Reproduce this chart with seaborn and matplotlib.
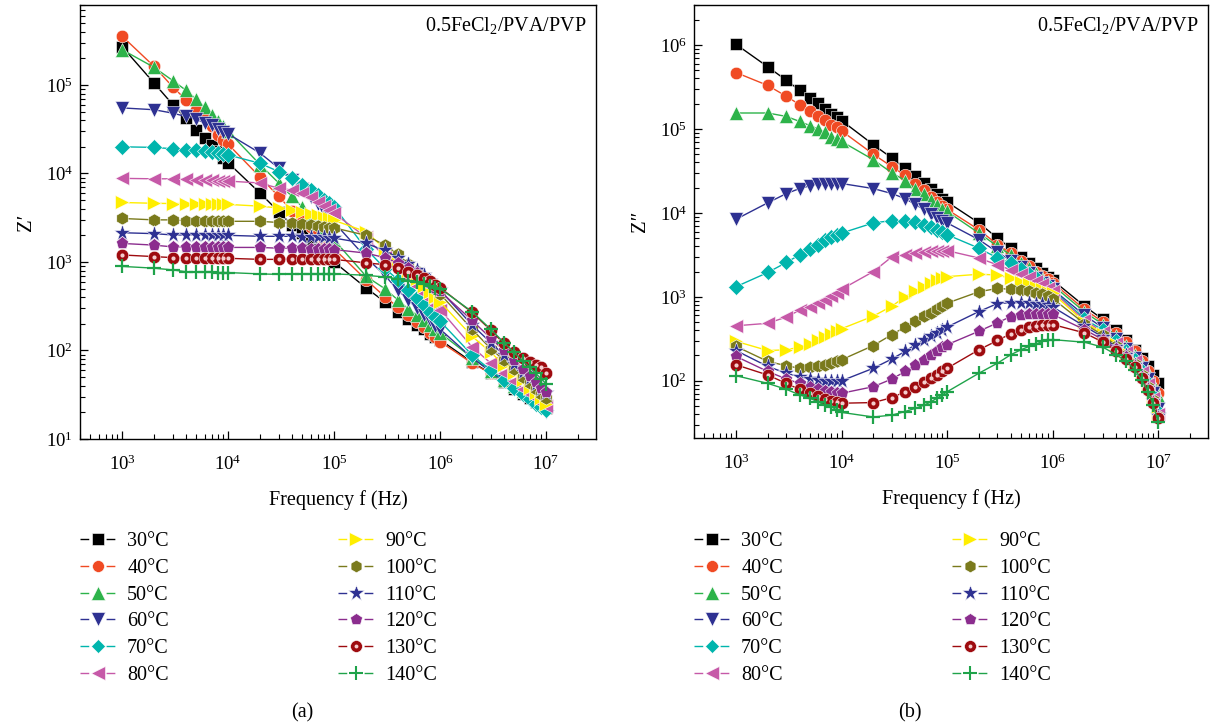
import matplotlib
matplotlib.use("Agg")
import matplotlib.pyplot as plt
from matplotlib.lines import Line2D
from matplotlib.legend_handler import HandlerTuple
import seaborn as sns
import pandas as pd

# ---------------------------------------------------------------- data
freq_hz = [1e3, 2e3, 3e3, 4e3, 5e3, 6e3, 7e3, 8e3, 9e3,
           1e4, 2e4, 3e4, 4e4, 5e4, 6e4, 7e4, 8e4, 9e4,
           1e5, 2e5, 3e5, 4e5, 5e5, 6e5, 7e5, 8e5, 9e5,
           1e6, 2e6, 3e6, 4e6, 5e6, 6e6, 7e6, 8e6, 9e6,
           1e7]

temperatures = ["30°C", "40°C", "50°C", "60°C", "70°C", "80°C",
                "90°C", "100°C", "110°C", "120°C", "130°C", "140°C"]

# real part Z' (ohm)
zr_30 = [2.7e5, 1.05e5, 6.0e4, 4.2e4, 3.1e4, 2.5e4, 2.1e4, 1.78e4, 1.51e4,
         1.32e4, 6.0e3, 3.7e3, 2.6e3, 2.1e3, 1.66e3, 1.41e3, 1.23e3, 1.10e3,
         1.0e3, 510, 355, 275, 229, 195, 174, 155, 141,
         132, 74, 55, 44, 37, 32, 29, 26, 24,
         22.4]
zr_40 = [3.55e5, 1.62e5, 9.5e4, 6.8e4, 5.2e4, 4.3e4, 3.4e4, 2.75e4, 2.4e4,
         2.14e4, 9.1e3, 5.5e3, 3.8e3, 3.1e3, 2.5e3, 2.1e3, 1.82e3, 1.58e3,
         1.41e3, 630, 407, 309, 251, 209, 182, 158, 141,
         126, 72, 55, 45, 38, 33, 29.5, 27, 25,
         23.4]
zr_50 = [2.5e5, 1.58e5, 1.12e5, 8.7e4, 6.9e4, 5.6e4, 4.6e4, 3.9e4, 3.4e4,
         3.0e4, 1.26e4, 7.8e3, 5.5e3, 4.2e3, 3.3e3, 2.75e3, 2.35e3, 2.05e3,
         1.78e3, 690, 500, 372, 295, 251, 219, 195, 174,
         158, 83, 59, 47, 40, 35, 32, 29.5, 27.5,
         26]
zr_60 = [5.5e4, 5.25e4, 4.8e4, 4.4e4, 4.1e4, 3.7e4, 3.5e4, 3.2e4, 2.95e4,
         2.8e4, 1.7e4, 1.15e4, 8.5e3, 6.6e3, 5.4e3, 4.5e3, 3.8e3, 3.2e3,
         2.8e3, 1.12e3, 710, 480, 372, 302, 251, 219, 191,
         174, 83, 57.5, 45, 37, 31.6, 27.5, 24.5, 22.4,
         20.4]
zr_70 = [2.0e4, 1.97e4, 1.9e4, 1.86e4, 1.84e4, 1.78e4, 1.74e4, 1.7e4, 1.66e4,
         1.62e4, 1.3e4, 1.05e4, 8.9e3, 7.4e3, 6.5e3, 5.75e3, 5.0e3, 4.6e3,
         4.2e3, 1.41e3, 850, 630, 480, 389, 324, 275, 240,
         214, 89, 60, 46, 38, 32, 28, 25, 23,
         21.4]
zr_80 = [8.8e3, 8.7e3, 8.7e3, 8.6e3, 8.5e3, 8.5e3, 8.4e3, 8.3e3, 8.3e3,
         8.2e3, 7.8e3, 6.8e3, 6.5e3, 6.0e3, 5.4e3, 4.7e3, 4.3e3, 3.9e3,
         3.55e3, 1.9e3, 1.15e3, 850, 660, 540, 450, 380, 330,
         290, 110, 72, 55, 45, 37, 32, 29, 25.7,
         23.4]
zr_90 = [4.7e3, 4.6e3, 4.57e3, 4.57e3, 4.5e3, 4.5e3, 4.47e3, 4.47e3, 4.47e3,
         4.47e3, 4.27e3, 4.07e3, 3.9e3, 3.7e3, 3.5e3, 3.4e3, 3.24e3, 3.1e3,
         2.95e3, 2.2e3, 1.41e3, 1.02e3, 790, 650, 540, 460, 400,
         355, 145, 95.5, 69, 55, 46, 38, 33, 29,
         25]
zr_100 = [3.1e3, 2.99e3, 2.99e3, 2.92e3, 2.88e3, 2.88e3, 2.88e3, 2.88e3, 2.88e3,
          2.88e3, 2.88e3, 2.79e3, 2.75e3, 2.69e3, 2.63e3, 2.57e3, 2.51e3, 2.45e3,
          2.43e3, 2.0e3, 1.55e3, 1.23e3, 955, 794, 676, 575, 500,
          437, 174, 105, 78, 62, 50, 43, 37, 32,
          29]
zr_110 = [2.14e3, 2.09e3, 2.02e3, 2.02e3, 2.02e3, 2.0e3, 2.0e3, 2.0e3, 2.0e3,
          2.0e3, 1.95e3, 1.95e3, 1.95e3, 1.93e3, 1.93e3, 1.91e3, 1.91e3, 1.88e3,
          1.86e3, 1.62e3, 1.35e3, 1.12e3, 955, 813, 708, 617, 550,
          479, 195, 123, 89, 71, 57.5, 49, 41.7, 37,
          33]
zr_120 = [1.62e3, 1.55e3, 1.48e3, 1.48e3, 1.48e3, 1.48e3, 1.46e3, 1.46e3, 1.46e3,
          1.46e3, 1.46e3, 1.43e3, 1.43e3, 1.43e3, 1.41e3, 1.41e3, 1.41e3, 1.40e3,
          1.38e3, 1.26e3, 1.12e3, 977, 851, 741, 646, 575, 513,
          468, 219, 138, 100, 78, 62, 51, 44, 38,
          34]
zr_130 = [1.2e3, 1.15e3, 1.12e3, 1.10e3, 1.10e3, 1.10e3, 1.10e3, 1.10e3, 1.10e3,
          1.10e3, 1.07e3, 1.07e3, 1.08e3, 1.08e3, 1.08e3, 1.08e3, 1.07e3, 1.07e3,
          1.07e3, 977, 933, 851, 776, 708, 661, 603, 550,
          513, 269, 170, 120, 95, 83, 74, 69, 65,
          55]
zr_140 = [891, 851, 813, 776, 776, 767, 767, 759, 759,
          759, 733, 724, 733, 733, 733, 733, 733, 733,
          733, 708, 676, 646, 617, 589, 562, 537, 513,
          501, 275, 174, 123, 95, 76, 65, 55, 48,
          42]

# imaginary part Z'' (ohm)
zi_30 = [1.02e6, 5.5e5, 3.8e5, 2.9e5, 2.35e5, 2.05e5, 1.74e5, 1.51e5, 1.38e5,
         1.26e5, 6.5e4, 4.5e4, 3.4e4, 2.75e4, 2.3e4, 1.95e4, 1.7e4, 1.48e4,
         1.35e4, 7.6e3, 5.0e3, 3.8e3, 3.0e3, 2.5e3, 2.2e3, 1.9e3, 1.74e3,
         1.58e3, 776, 537, 398, 302, 234, 186, 148, 117,
         93]
zi_40 = [4.7e5, 3.3e5, 2.45e5, 1.95e5, 1.66e5, 1.43e5, 1.29e5, 1.12e5, 1.05e5,
         9.5e4, 5.0e4, 3.55e4, 2.8e4, 2.24e4, 1.86e4, 1.55e4, 1.35e4, 1.2e4,
         1.1e4, 6.3e3, 4.2e3, 3.3e3, 2.7e3, 2.3e3, 2.0e3, 1.78e3, 1.62e3,
         1.48e3, 708, 501, 372, 288, 224, 174, 132, 100,
         72]
zi_50 = [1.55e5, 1.55e5, 1.41e5, 1.23e5, 1.1e5, 1.0e5, 9.1e4, 8.1e4, 7.6e4,
         7.1e4, 4.3e4, 3.0e4, 2.43e4, 1.95e4, 1.66e4, 1.43e4, 1.24e4, 1.1e4,
         1.04e4, 5.75e3, 4.0e3, 3.16e3, 2.5e3, 2.2e3, 1.9e3, 1.66e3, 1.51e3,
         1.38e3, 661, 468, 339, 257, 204, 162, 123, 91,
         65]
zi_60 = [8.4e3, 1.32e4, 1.7e4, 1.95e4, 2.1e4, 2.2e4, 2.24e4, 2.24e4, 2.24e4,
         2.24e4, 1.95e4, 1.7e4, 1.48e4, 1.26e4, 1.1e4, 9.8e3, 8.7e3, 8.1e3,
         7.6e3, 4.8e3, 3.4e3, 2.7e3, 2.24e3, 1.9e3, 1.66e3, 1.48e3, 1.35e3,
         1.23e3, 603, 427, 316, 240, 186, 141, 105, 72,
         46]
zi_70 = [1.32e3, 1.95e3, 2.57e3, 3.16e3, 3.7e3, 4.2e3, 4.7e3, 5.1e3, 5.5e3,
         5.75e3, 7.6e3, 8.1e3, 7.9e3, 7.8e3, 7.2e3, 6.8e3, 6.3e3, 6.0e3,
         5.5e3, 3.8e3, 2.9e3, 2.5e3, 2.14e3, 1.86e3, 1.66e3, 1.48e3, 1.35e3,
         1.2e3, 550, 398, 295, 229, 178, 132, 95, 66,
         42]
zi_80 = [452, 484, 575, 692, 759, 841, 923, 1.02e3, 1.12e3,
         1.23e3, 2.0e3, 3.0e3, 3.16e3, 3.3e3, 3.4e3, 3.47e3, 3.55e3, 3.55e3,
         3.55e3, 2.9e3, 2.4e3, 2.1e3, 1.86e3, 1.7e3, 1.55e3, 1.41e3, 1.29e3,
         1.17e3, 525, 380, 282, 219, 170, 126, 91, 63,
         40]
zi_90 = [295, 229, 234, 251, 275, 302, 331, 363, 389,
         417, 589, 776, 1.0e3, 1.17e3, 1.32e3, 1.45e3, 1.58e3, 1.66e3,
         1.74e3, 1.86e3, 1.82e3, 1.66e3, 1.51e3, 1.41e3, 1.32e3, 1.23e3, 1.15e3,
         1.1e3, 501, 363, 275, 214, 166, 123, 89, 62,
         40]
zi_100 = [257, 170, 151, 141, 145, 148, 155, 162, 170,
          178, 263, 355, 437, 513, 589, 646, 708, 776,
          841, 1.15e3, 1.26e3, 1.23e3, 1.2e3, 1.17e3, 1.12e3, 1.07e3, 1.02e3,
          955, 479, 347, 263, 204, 158, 117, 85, 59,
          38]
zi_110 = [229, 148, 123, 112, 105, 102, 100, 100, 100,
          100, 141, 182, 224, 269, 302, 339, 372, 398,
          437, 668, 832, 851, 851, 851, 832, 813, 794,
          759, 447, 331, 251, 200, 155, 115, 83, 58,
          38]
zi_120 = [195, 129, 105, 93, 85, 79, 76, 74, 72,
          71, 85, 105, 129, 155, 178, 204, 229, 251,
          269, 389, 490, 582, 603, 617, 624, 631, 631,
          617, 407, 309, 240, 191, 148, 110, 79, 56,
          37]
zi_130 = [155, 117, 93, 79, 71, 65, 60, 58, 56,
          54, 55, 63, 74, 85, 98, 107, 117, 129,
          141, 234, 302, 363, 407, 437, 452, 468, 468,
          468, 372, 288, 229, 182, 145, 107, 78, 55,
          36]
zi_140 = [115, 93, 79, 68, 62, 56, 51, 49, 45,
          42, 37, 39, 43, 47, 51, 56, 62, 68,
          74, 123, 162, 204, 234, 257, 275, 295, 302,
          309, 288, 251, 204, 170, 135, 102, 74, 51,
          32]

z_real = [zr_30, zr_40, zr_50, zr_60, zr_70, zr_80,
          zr_90, zr_100, zr_110, zr_120, zr_130, zr_140]
z_imag = [zi_30, zi_40, zi_50, zi_60, zi_70, zi_80,
          zi_90, zi_100, zi_110, zi_120, zi_130, zi_140]

# ---------------------------------------------------------------- style
colors = ["#000000", "#F04A23", "#2DB34A", "#2E3192", "#00B5AD", "#C659A8",
          "#FFEE00", "#7A7A1C", "#2E3192", "#8B2D8E", "#9E0B0F", "#1FA34A"]
markers = ["s", "o", "^", "v", "D", "<", ">", "h", "*", "p", "o", "+"]
msizes = [8.5, 9.0, 10.0, 10.0, 8.0, 10.0, 10.0, 9.5, 12.5, 9.5, 9.0, 10.0]
highlight = "#F4CDCD"

sns.set_style("ticks")
plt.rcParams.update({
    "font.family": ["Liberation Serif", "DejaVu Serif"],
    "mathtext.fontset": "custom",
    "mathtext.rm": "Liberation Serif",
    "mathtext.it": "Liberation Serif:italic",
    "mathtext.bf": "Liberation Serif:bold",
    "axes.edgecolor": "black",
    "axes.linewidth": 1.0,
    "xtick.direction": "in",
    "ytick.direction": "in",
    "xtick.color": "black",
    "ytick.color": "black",
    "text.color": "black",
    "axes.labelcolor": "black",
})

W, H = 1210, 724
fig = plt.figure(figsize=(W / 100, H / 100), dpi=100)
fig.patch.set_facecolor("white")


def px_axes(x0, y0, x1, y1):
    return [x0 / W, 1 - y1 / H, (x1 - x0) / W, (y1 - y0) / H]


ax_re = fig.add_axes(px_axes(80, 5, 596, 439))
ax_im = fig.add_axes(px_axes(694, 5, 1208, 438))


def draw_panel(ax, table, ylim, ylabel):
    ax.set_xscale("log")
    ax.set_yscale("log")
    for k, values in enumerate(table):
        frame = pd.DataFrame({"Frequency": freq_hz, "Z": values})
        plus = markers[k] == "+"
        sns.lineplot(data=frame, x="Frequency", y="Z", ax=ax,
                     color=colors[k], marker=markers[k], markersize=msizes[k],
                     markeredgecolor=colors[k] if plus else "white",
                     markeredgewidth=1.6 if plus else 0.4,
                     linewidth=1.0, estimator=None, sort=False,
                     legend=False, zorder=2 + k)
        if temperatures[k] == "130°C":
            ax.plot(frame["Frequency"], frame["Z"], linestyle="none",
                    marker="o", markersize=3.0, markerfacecolor=highlight,
                    markeredgecolor="none", zorder=2.5 + k)
    ax.set_xlim(400, 2.96e7)
    ax.set_ylim(*ylim)
    ax.set_xlabel("Frequency f (Hz)", fontsize=14.5, labelpad=12)
    ax.set_ylabel(ylabel, fontsize=15, labelpad=7)
    ax.tick_params(which="major", length=6, width=0.9, labelsize=13.5,
                   top=False, right=False)
    ax.tick_params(axis="x", which="major", pad=11)
    ax.tick_params(axis="y", which="major", pad=5)
    ax.tick_params(which="minor", length=3.5, width=0.8, top=False, right=False)
    for side in ax.spines.values():
        side.set_visible(True)
        side.set_color("black")
        side.set_linewidth(1.0)
    ax.text(0.981, 0.94, "0.5FeCl$_2$/PVA/PVP", transform=ax.transAxes,
            ha="right", va="baseline", fontsize=14.5)


draw_panel(ax_re, z_real, (10, 8e5), "Z\u2032")
draw_panel(ax_im, z_imag, (20.8, 3.0e6), "Z\u2033")


# ---------------------------------------------------------------- legends
def legend_handle(k):
    plus = markers[k] == "+"
    line = Line2D([], [], color=colors[k], linewidth=1.0,
                  linestyle=(0, (6.3, 12.5)), marker=markers[k],
                  markersize=msizes[k] * 0.95, markerfacecolor=colors[k],
                  markeredgecolor=colors[k] if plus else "white",
                  markeredgewidth=1.5 if plus else 0.4)
    if temperatures[k] == "130°C":
        dot = Line2D([], [], linestyle="none", marker="o", markersize=2.8,
                     markerfacecolor=highlight, markeredgecolor="none")
        return (line, dot)
    return line


handles = [legend_handle(k) for k in range(len(temperatures))]

for x_left in (80, 694):
    for col in range(2):
        idx = range(col * 6, col * 6 + 6)
        fig.legend([handles[i] for i in idx], [temperatures[i] for i in idx],
                   loc="upper left",
                   bbox_to_anchor=((x_left + col * 258) / W, 1 - 532 / H),
                   frameon=False, fontsize=14.5, borderpad=0,
                   borderaxespad=0, handlelength=1.74, handletextpad=0.6,
                   labelspacing=0.38, numpoints=1,
                   handler_map={tuple: HandlerTuple(ndivide=1, pad=0)})

fig.text(302 / W, 1 - 713 / H, "(a)", ha="center", va="center", fontsize=14.5)
fig.text(910 / W, 1 - 713 / H, "(b)", ha="center", va="center", fontsize=14.5)

fig.savefig("out.png", dpi=100, facecolor="white")
